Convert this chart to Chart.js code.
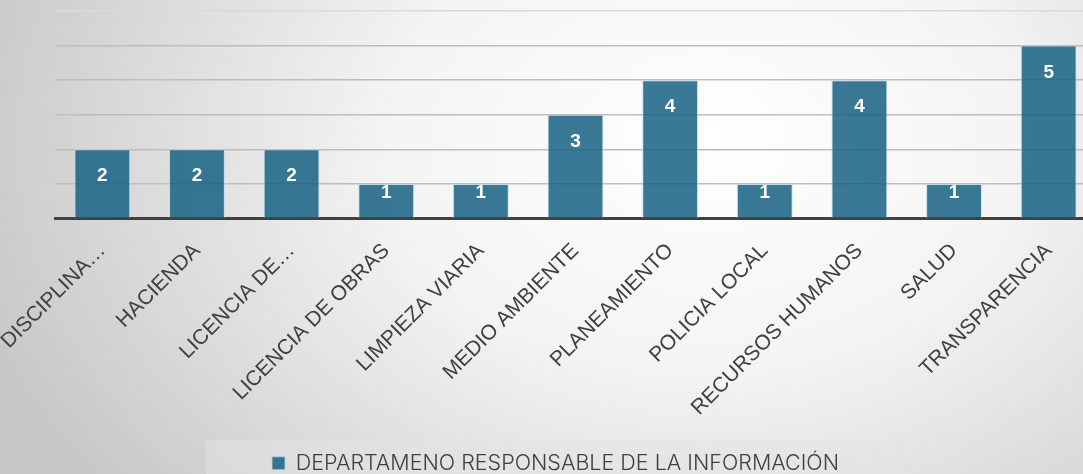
<!DOCTYPE html>
<html>
<head>
<meta charset="utf-8">
<script src="https://cdn.jsdelivr.net/npm/chart.js@4"></script>
<style>
    html, body {
        margin: 0;
        width: 1083px;
        height: 474px;
        overflow: hidden;
        background: radial-gradient(ellipse 72% 120% at 65% 30%, #ffffff 0%, #f4f4f4 40%, #c6c6c6 100%);
    }
    #wrap {
        position: relative;
        width: 1100px;
        height: 474px;
    }
</style>
</head>
<body>
<div id="wrap"><canvas id="canvas1"></canvas></div>
<script>
let departamentos = ['DISCIPLINA…', 'HACIENDA', 'LICENCIA DE…', 'LICENCIA DE OBRAS', 'LIMPIEZA VIARIA',
    'MEDIO AMBIENTE', 'PLANEAMIENTO', 'POLICIA LOCAL', 'RECURSOS HUMANOS', 'SALUD', 'TRANSPARENCIA'];
let cantidades = [2, 2, 2, 1, 1, 3, 4, 1, 4, 1, 5];
let serieNombre = 'DEPARTAMENO RESPONSABLE DE LA INFORMACIÓN';

document.addEventListener('DOMContentLoaded', function () {
    let canvas1 = document.getElementById("canvas1");

    // leyenda dentro de su recuadro gris claro
    let legendBox = {
        id: 'legendBox',
        afterLayout(chart) {
            let lg = chart.legend;
            lg.left = 206;
            lg.right = 905;
            lg.width = lg.right - lg.left;
        },
        beforeDraw(chart) {
            let lg = chart.legend;
            let ctx = chart.ctx;
            ctx.save();
            ctx.fillStyle = 'rgba(228,228,228,0.5)';
            ctx.fillRect(lg.left, lg.top - 10, lg.width, chart.height - lg.top + 10);
            ctx.restore();
        }
    };

    // etiquetas de valor dentro de las barras
    let valueLabels = {
        id: 'valueLabels',
        afterDatasetsDraw(chart) {
            let ctx = chart.ctx;
            let meta = chart.getDatasetMeta(0);
            ctx.save();
            ctx.font = 'bold 19px "Liberation Sans", Arial, sans-serif';
            ctx.fillStyle = '#ffffff';
            ctx.textAlign = 'center';
            ctx.textBaseline = 'middle';
            meta.data.forEach(function (bar, i) {
                let y = Math.min(bar.y + 27, (bar.y + bar.base) / 2 - 8);
                ctx.fillText(String(cantidades[i]), bar.x, y);
            });
            ctx.restore();
        }
    };

    let chart1 = new Chart(canvas1, {
        type: 'bar',
        data: {
            labels: departamentos,
            datasets: [{
                label: serieNombre,
                data: cantidades,
                backgroundColor: 'rgba(22,97,130,0.85)',
                borderColor: 'rgba(190,215,228,0.8)',
                borderWidth: 1,
                barPercentage: 0.59,
                categoryPercentage: 1
            }]
        },
        options: {
            responsive: true,
            maintainAspectRatio: false,
            animation: false,
            layout: {
                padding: { top: 11, left: 55, right: 4, bottom: -10 }
            },
            plugins: {
                legend: {
                    display: true,
                    position: 'bottom',
                    labels: {
                        usePointStyle: true,
                        pointStyle: 'rect',
                        boxWidth: 13,
                        boxHeight: 13,
                        padding: 2,
                        font: {
                            family: 'Inter, Roboto, sans-serif',
                            size: 21.5,
                            weight: 300
                        },
                        color: '#404040'
                    }
                },
                tooltip: { enabled: false }
            },
            scales: {
                x: {
                    grid: { display: false },
                    border: { display: true, color: '#404040', width: 3 },
                    ticks: {
                        minRotation: 45,
                        maxRotation: 45,
                        autoSkip: false,
                        padding: 12,
                        color: '#404040',
                        font: { family: '"Liberation Sans", Arial, sans-serif', size: 21 }
                    },
                    afterFit: function (scale) {
                        scale.height = 232;
                        scale.paddingLeft = 0;
                        scale.paddingRight = 0;
                    }
                },
                y: {
                    min: 0,
                    max: 6,
                    ticks: { display: false, stepSize: 1 },
                    border: { display: false },
                    grid: {
                        drawTicks: false,
                        lineWidth: 1.5,
                        color: function (c) { return c.tick.value === 6 ? '#dadada' : '#bdbdbd'; }
                    },
                    afterFit: function (scale) { scale.width = 0; }
                }
            }
        },
        plugins: [legendBox, valueLabels]
    });
});
</script>
</body>
</html>
